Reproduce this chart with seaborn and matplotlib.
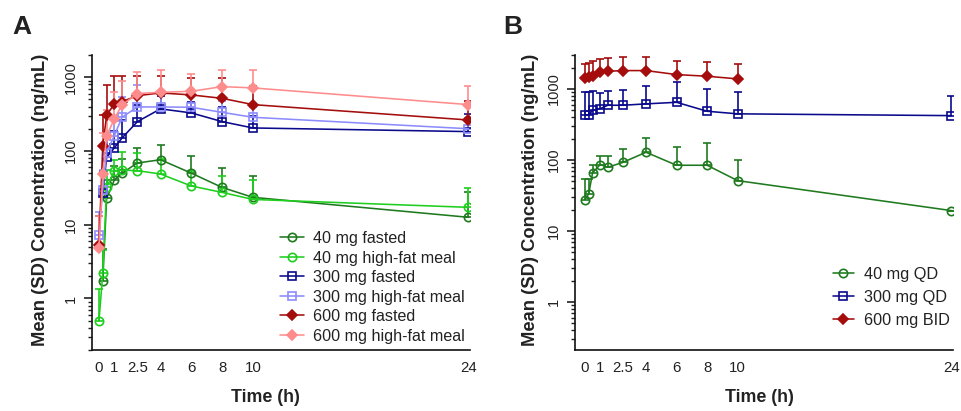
import numpy as np
import pandas as pd
import matplotlib
matplotlib.use("Agg")
import matplotlib.pyplot as plt
import seaborn as sns

sns.set_theme(style="ticks")
plt.rcParams['font.family'] = ['Liberation Sans', 'DejaVu Sans']

# ---------------- data ----------------
time_h = [0, 0.25, 0.5, 1, 1.5, 2.5, 4, 6, 8, 10, 24]
tick_labels = ["0", "1", "2.5", "4", "6", "8", "10", "24"]
tick_pos = [0, 1, 2.5, 4, 6, 8, 10, 24]

# Panel A: means and SD
a_names = ["40 mg fasted", "40 mg high-fat meal", "300 mg fasted",
           "300 mg high-fat meal", "600 mg fasted", "600 mg high-fat meal"]
a40f_mean = [np.nan, 1.74, 22.7, 40.4, 50, 68.7, 76, 50, 32, 23.5, 12.6]
a40f_sd = [0, 3.0, 18, 22, 28, 41, 46, 36, 27, 22, 15]
a40h_mean = [0.49, 2.18, 32, 54, 55, 54, 48.7, 33.5, 27.4, 22, 17.2]
a40h_sd = [0.85, 2.3, 23, 22, 41, 40, 30, 20, 19, 18, 14]
a300f_mean = [np.nan, 26.6, 82, 110, 150, 250, 372, 328, 250, 205, 183]
a300f_sd = [0, 27, 71, 79, 110, 170, 190, 129, 140, 96, 135]
a300h_mean = [7.25, 30, 95, 161, 286, 395, 395, 391, 334, 286, 200]
a300h_sd = [7.4, 25, 60, 110, 247, 391, 198, 180, 146, 110, 80]
a600f_mean = [5.3, 118, 305, 434, 467, 562, 612, 575, 517, 425, 263]
a600f_sd = [8, 192, 476, 594, 561, 478, 438, 403, 461, 345, 208]
a600h_mean = [4.8, 48, 160, 272, 421, 600, 624, 644, 745, 716, 425]
a600h_sd = [8.5, 125, 200, 352, 479, 566, 644, 466, 523, 552, 344]

# Panel B
b_names = ["40 mg QD", "300 mg QD", "600 mg BID"]
b40_mean = [27.6, 33.5, 65.6, 86, 78.7, 92.5, 128, 84, 84, 51, 19.3]
b40_sd = [25.4, 19.5, 20.4, 29, 36.3, 51.5, 76, 68, 89, 47.6, 0]
b300_mean = [425, 425, 500, 528, 588, 588, 615, 647, 484, 445, 420]
b300_sd = [482, 475, 425, 350, 358, 389, 497, 607, 516, 462, 385]
b600_mean = [1430, 1456, 1540, 1714, 1770, 1810, 1810, 1590, 1506, 1383, np.nan]
b600_sd = [840, 869, 910, 936, 920, 1010, 990, 900, 864, 867, np.nan]

# ---------------- styles ----------------
dkgreen, ltgreen = "#1f7a1f", "#1ecf1e"
navy, ltblue = "#0a0a8c", "#8c8cff"
dkred, ltred = "#a50d0d", "#ff8c8c"

a_series = [
    (a40f_mean, a40f_sd, dkgreen, "o", False),
    (a40h_mean, a40h_sd, ltgreen, "o", False),
    (a300f_mean, a300f_sd, navy, "s", False),
    (a300h_mean, a300h_sd, ltblue, "s", False),
    (a600f_mean, a600f_sd, dkred, "D", True),
    (a600h_mean, a600h_sd, ltred, "D", True),
]
b_series = [
    (b40_mean, b40_sd, dkgreen, "o", False),
    (b300_mean, b300_sd, navy, "s", False),
    (b600_mean, b600_sd, dkred, "D", True),
]

fig = plt.figure(figsize=(9.61, 4.11), dpi=100)
W, H = 961, 411
axA = fig.add_axes([92 / W, 1 - 350 / H, 378 / W, 295 / H])
axB = fig.add_axes([575 / W, 1 - 350 / H, 378 / W, 295 / H])


def draw(ax, series, names):
    for (mean, sd, col, mk, filled), name in zip(series, names):
        df = pd.DataFrame({"t": time_h, "c": mean, "sd": sd}).dropna()
        ax.errorbar(df["t"], df["c"], yerr=[np.zeros(len(df)), df["sd"]],
                    fmt="none", ecolor=col, elinewidth=1.2, capsize=3,
                    capthick=1.2, zorder=2)
        ms = {"o": 6, "s": 5.8, "D": 5}[mk]
        sns.lineplot(data=df, x="t", y="c", ax=ax, color=col, lw=1.15,
                     marker=mk, markersize=ms,
                     markerfacecolor=col if filled else "none",
                     markeredgecolor=col, markeredgewidth=1.2,
                     label=name, zorder=3, errorbar=None, estimator=None)


draw(axA, a_series, a_names)
draw(axB, b_series, b_names)

for ax, ylim, xlim in [(axA, (0.2, 2000), (-0.45, 24.1)),
                       (axB, (0.21, 3000), (-0.65, 24.1))]:
    ax.set_yscale("log")
    ax.set_ylim(*ylim)
    ax.set_xlim(*xlim)
    ax.set_xticks(tick_pos)
    ax.set_xticklabels(tick_labels)
    ax.set_yticks([1, 10, 100, 1000])
    ax.set_yticklabels(["1", "10", "100", "1000"], rotation=90, va="center")
    ax.tick_params(axis="y", which="major", length=6, width=1.2, pad=4,
                   labelsize=10.5, colors="#222222")
    ax.tick_params(axis="y", which="minor", length=3, width=1.0, colors="#222222")
    ax.tick_params(axis="x", which="major", length=0, pad=8, labelsize=10.8,
                   colors="#222222")
    for s in ["top", "right"]:
        ax.spines[s].set_visible(False)
    for s in ["left", "bottom"]:
        ax.spines[s].set_linewidth(1.2)
        ax.spines[s].set_color("#111111")
    ax.set_xlabel("Time (h)", fontsize=12.8, fontweight="bold", color="#222222")
    ax.set_ylabel("Mean (SD) Concentration (ng/mL)", fontsize=13.2,
                  fontweight="bold", color="#222222")

axA.yaxis.set_label_coords(-0.115, 0.51)
axB.yaxis.set_label_coords(-0.095, 0.51)
axA.xaxis.set_label_coords(0.458, -0.133)
axB.xaxis.set_label_coords(0.487, -0.133)

legA = axA.legend(loc="upper left", bbox_to_anchor=(0.48, 0.425), frameon=False,
                  fontsize=11.6, handlelength=1.5, handletextpad=0.55,
                  labelspacing=0.28, borderaxespad=0)
legB = axB.legend(loc="upper left", bbox_to_anchor=(0.665, 0.305), frameon=False,
                  fontsize=11.7, handlelength=1.3, handletextpad=0.6,
                  labelspacing=0.5, borderaxespad=0)
for leg in (legA, legB):
    for t in leg.get_texts():
        t.set_color("#222222")

fig.text(22 / W, 1 - 27 / H, "A", fontsize=19, fontweight="bold",
         ha="center", va="center", color="#222222")
fig.text(513 / W, 1 - 27 / H, "B", fontsize=19, fontweight="bold",
         ha="center", va="center", color="#222222")

fig.savefig("out.png", dpi=100)
